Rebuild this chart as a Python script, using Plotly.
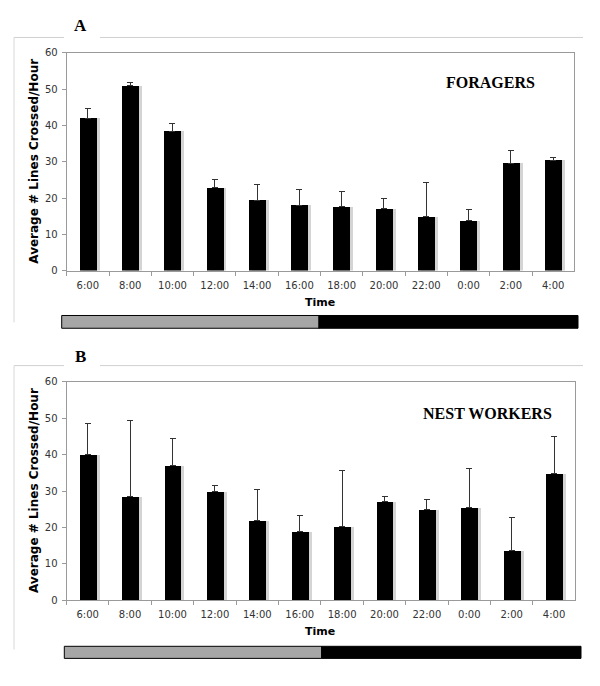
import plotly.graph_objects as go

times = ["6:00", "8:00", "10:00", "12:00", "14:00", "16:00",
         "18:00", "20:00", "22:00", "0:00", "2:00", "4:00"]
foragers_mean = [42.0, 51.0, 38.4, 22.8, 19.4, 18.0, 17.7, 17.1, 14.9, 13.7, 29.6, 30.4]
foragers_se = [2.8, 0.7, 2.2, 2.4, 4.4, 4.3, 4.0, 2.7, 9.3, 3.2, 3.4, 0.9]
nest_mean = [40.0, 28.5, 37.0, 29.9, 22.0, 18.9, 20.3, 27.0, 25.0, 25.5, 13.7, 34.9]
nest_se = [8.5, 20.7, 7.3, 1.7, 8.5, 4.4, 15.3, 1.6, 2.8, 10.8, 9.0, 10.0]
y_ticks = [0, 10, 20, 30, 40, 50, 60]

W, H = 600, 686
def px(x): return x / W
def py(y): return 1 - y / H

fig = go.Figure()

panels = [
    dict(mean=foragers_mean, se=foragers_se, xa="x", ya="y", label="A", name="FORAGERS",
         plot=(66.7, 574.3, 47.7, 269.3), frame_top=32, frame_bot=322,
         label_xy=(80, 20), name_xy=(490, 78), ticky=283, timey=302,
         bar=(61.7, 319, 578, 315, 328)),
    dict(mean=nest_mean, se=nest_se, xa="x2", ya="y2", label="B", name="NEST WORKERS",
         plot=(66.5, 575.3, 382.3, 605), frame_top=366, frame_bot=655,
         label_xy=(80, 357), name_xy=(487, 415), ticky=618, timey=637,
         bar=(64.3, 321.7, 581, 651.7, 664)),
]

shapes = []
annotations = []
for i, p in enumerate(panels):
    # shadow bars
    fig.add_trace(go.Bar(x=times, y=p["mean"], xaxis=p["xa"], yaxis=p["ya"],
                         marker=dict(color="#d4d4d4", line=dict(width=0)),
                         width=0.4, offset=-0.2 + 0.07, showlegend=False, hoverinfo="skip"))
    fig.add_trace(go.Bar(x=times, y=p["mean"], xaxis=p["xa"], yaxis=p["ya"],
                         marker=dict(color="black", line=dict(width=0)),
                         width=0.4, offset=-0.2, showlegend=False,
                         error_y=dict(type="data", array=p["se"], arrayminus=[0] * len(p["se"]),
                                      symmetric=False, color="#333333", thickness=1, width=3)))
    x0, x1, y0, y1 = p["plot"]
    suffix = "" if i == 0 else "2"
    axis_common = dict(showline=True, linecolor="#9a9a9a", linewidth=1, mirror=True,
                       ticks="outside", tickcolor="#9a9a9a", ticklen=4, showgrid=False,
                       zeroline=False, tickfont=dict(family="DejaVu Sans", size=10, color="#333"))
    fig.update_layout(**{
        "xaxis" + suffix: dict(domain=[px(x0), px(x1)], anchor="y" + suffix,
                               tickson="boundaries", type="category", ticklabelstandoff=5,
                               **axis_common),
        "yaxis" + suffix: dict(domain=[py(y1), py(y0)], anchor="x" + suffix,
                               range=[0, 60], tickvals=y_ticks, ticklabelstandoff=2,
                               **axis_common),
    })
    # outer frame lines
    ft, fb = p["frame_top"], p["frame_bot"]
    for (a, b) in [(14, 64), (100, 583)]:
        shapes.append(dict(type="line", xref="paper", yref="paper", x0=px(a), x1=px(b),
                           y0=py(ft), y1=py(ft), line=dict(color="#d0d0d0", width=1)))
    shapes.append(dict(type="line", xref="paper", yref="paper", x0=px(14), x1=px(14),
                       y0=py(ft), y1=py(fb), line=dict(color="#d8d8d8", width=1)))
    # day / night bar
    bx0, bmid, bx1, by0, by1 = p["bar"]
    shapes.append(dict(type="rect", xref="paper", yref="paper", x0=px(bx0), x1=px(bmid),
                       y0=py(by1), y1=py(by0), fillcolor="#a6a6a6",
                       line=dict(color="black", width=1)))
    shapes.append(dict(type="rect", xref="paper", yref="paper", x0=px(bmid), x1=px(bx1),
                       y0=py(by1), y1=py(by0), fillcolor="black",
                       line=dict(color="black", width=1)))
    # labels
    lx, ly = p["label_xy"]
    annotations.append(dict(text="<b>%s</b>" % p["label"], xref="paper", yref="paper",
                            x=px(lx), y=py(ly), showarrow=False, xanchor="center", yanchor="middle",
                            font=dict(family="Liberation Serif", size=17, color="black")))
    nx, ny = p["name_xy"]
    annotations.append(dict(text="<b>%s</b>" % p["name"], xref="paper", yref="paper",
                            x=px(nx), y=py(ny), showarrow=False, xanchor="center", yanchor="middle",
                            font=dict(family="Liberation Serif", size=16, color="black")))
    annotations.append(dict(text="<b>Time</b>", xref="paper", yref="paper",
                            x=px(320), y=py(p["timey"]), showarrow=False, xanchor="center",
                            yanchor="middle", font=dict(family="DejaVu Sans", size=11, color="black")))
    annotations.append(dict(text="<b>Average # Lines Crossed/Hour</b>", xref="paper", yref="paper",
                            x=px(34), y=py((y0 + y1) / 2), showarrow=False, textangle=-90,
                            xanchor="center", yanchor="middle",
                            font=dict(family="DejaVu Sans", size=12, color="black")))

fig.update_layout(width=W, height=H, margin=dict(l=0, r=0, t=0, b=0),
                  paper_bgcolor="white", plot_bgcolor="white", barmode="overlay",
                  bargap=0, shapes=shapes, annotations=annotations, showlegend=False)

fig.write_html("out.html", config={"displayModeBar": False},
               post_script="document.body.style.margin='0';document.body.style.overflow='hidden';")
